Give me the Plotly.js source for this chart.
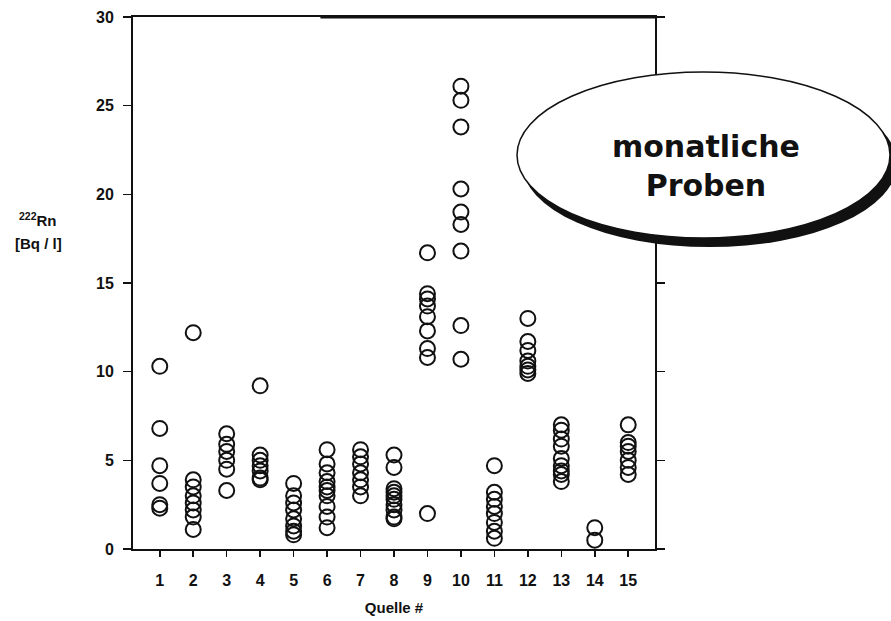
<!DOCTYPE html>
<html>
<head>
<meta charset="utf-8">
<script src="https://cdn.plot.ly/plotly-3.0.1.min.js"></script>
<style>
  html, body { margin: 0; padding: 0; background: #fff; }
  #chart { width: 891px; height: 621px; }
</style>
</head>
<body>
<div id="chart"></div>
<script>
// Monthly 222Rn activity concentrations per spring (Quelle 1-15), Bq/l
const quelle = [1, 2, 3, 4, 5, 6, 7, 8, 9, 10, 11, 12, 13, 14, 15];
const tickLabels = ["1", "2", "3", "4", "5", "6", "7", "8", "9", "10", "11", "12", "13", "14", "15"];

const q1  = [10.3, 6.8, 4.7, 3.7, 2.5, 2.3];
const q2  = [12.2, 3.9, 3.5, 3.0, 2.6, 2.2, 1.8, 1.1];
const q3  = [6.5, 5.9, 5.5, 5.0, 4.5, 3.3];
const q4  = [9.2, 5.3, 5.0, 4.7, 4.4, 4.0, 3.9];
const q5  = [3.7, 3.0, 2.6, 2.2, 1.7, 1.3, 1.0, 0.8];
const q6  = [5.6, 4.8, 4.3, 3.8, 3.5, 3.3, 3.0, 2.4, 1.8, 1.2];
const q7  = [5.6, 5.2, 4.8, 4.3, 3.9, 3.5, 3.0];
const q8  = [5.3, 4.6, 3.4, 3.2, 3.0, 2.8, 2.5, 2.2, 1.8, 1.7];
const q9  = [16.7, 14.4, 14.1, 13.7, 13.1, 12.3, 11.3, 10.8, 2.0];
const q10 = [26.1, 25.3, 23.8, 20.3, 19.0, 18.3, 16.8, 12.6, 10.7];
const q11 = [4.7, 3.2, 2.8, 2.4, 2.0, 1.5, 1.0, 0.6];
const q12 = [13.0, 11.7, 11.2, 10.6, 10.3, 10.1, 9.9];
const q13 = [7.0, 6.7, 6.2, 5.8, 5.1, 4.7, 4.4, 4.2, 3.8];
const q14 = [1.2, 0.5];
const q15 = [7.0, 6.0, 5.8, 5.5, 5.0, 4.6, 4.2];

const samples = [q1, q2, q3, q4, q5, q6, q7, q8, q9, q10, q11, q12, q13, q14, q15];

const xs = [], ys = [];
samples.forEach((vals, i) => {
  vals.forEach(v => { xs.push(quelle[i]); ys.push(v); });
});

// plot frame in pixels, used to place the free-floating decorations
const W = 891, H = 621;
const frame = { l: 133, r: 655, t: 17, b: 549 };
const px = x => (x - frame.l) / (frame.r - frame.l);
const py = y => (frame.b - y) / (frame.b - frame.t);

const ink = '#111';
const tickFont = { family: 'Liberation Sans, Arial, sans-serif', size: 16, weight: 'bold', color: ink };
const labelFont = { family: 'Liberation Sans, Arial, sans-serif', size: 15, weight: 'bold', color: ink };
const bubbleFont = { family: 'DejaVu Sans, sans-serif', size: 30, weight: 'bold', color: ink };

const trace = {
  type: 'scatter',
  mode: 'markers',
  x: xs,
  y: ys,
  marker: {
    symbol: 'circle-open',
    size: 15,
    color: ink,
    line: { width: 2, color: ink }
  },
  hoverinfo: 'x+y'
};

const layout = {
  width: W,
  height: H,
  margin: { l: frame.l, r: W - frame.r, t: frame.t, b: H - frame.b },
  paper_bgcolor: '#fff',
  plot_bgcolor: '#fff',
  showlegend: false,
  xaxis: {
    range: [0.2, 15.8],
    tickmode: 'array',
    tickvals: quelle,
    ticktext: tickLabels,
    ticks: 'outside',
    ticklen: 6,
    tickwidth: 1.5,
    tickcolor: ink,
    ticklabelstandoff: 10,
    showline: true,
    linecolor: ink,
    linewidth: 2,
    mirror: true,
    showgrid: false,
    zeroline: false,
    tickfont: tickFont,
    title: { text: 'Quelle #', font: labelFont, standoff: 14 }
  },
  yaxis: {
    range: [0, 30],
    tick0: 0,
    dtick: 5,
    ticks: 'outside',
    ticklen: 8,
    tickwidth: 1.5,
    tickcolor: ink,
    ticklabelstandoff: 6,
    showline: true,
    linecolor: ink,
    linewidth: 2,
    mirror: 'ticks',
    showgrid: false,
    zeroline: false,
    tickfont: tickFont
  },
  shapes: [
    // heavier stretch of the top frame line
    { type: 'line', xref: 'x', yref: 'paper', x0: 5.8, x1: 15.8, y0: 1, y1: 1,
      line: { color: ink, width: 3 } },
    // drop shadow of the callout bubble
    { type: 'circle', xref: 'paper', yref: 'paper',
      x0: px(522), x1: px(897), y0: py(247), y1: py(80),
      fillcolor: ink, line: { width: 0 }, layer: 'above' },
    // callout bubble
    { type: 'circle', xref: 'paper', yref: 'paper',
      x0: px(517), x1: px(890), y0: py(238), y1: py(72),
      fillcolor: '#fff', line: { color: ink, width: 1.5 }, layer: 'above' }
  ],
  annotations: [
    { xref: 'paper', yref: 'paper', x: px(38), y: py(219), showarrow: false,
      text: '<sup>222</sup>Rn', font: labelFont, xanchor: 'center', yanchor: 'middle' },
    { xref: 'paper', yref: 'paper', x: px(38), y: py(244), showarrow: false,
      text: '[Bq / l]', font: labelFont, xanchor: 'center', yanchor: 'middle' },
    { xref: 'paper', yref: 'paper', x: px(706), y: py(166), showarrow: false,
      text: 'monatliche<br>Proben', align: 'center', font: bubbleFont,
      xanchor: 'center', yanchor: 'middle' }
  ]
};

Plotly.newPlot('chart', [trace], layout, { displayModeBar: false, staticPlot: true });
</script>
</body>
</html>
